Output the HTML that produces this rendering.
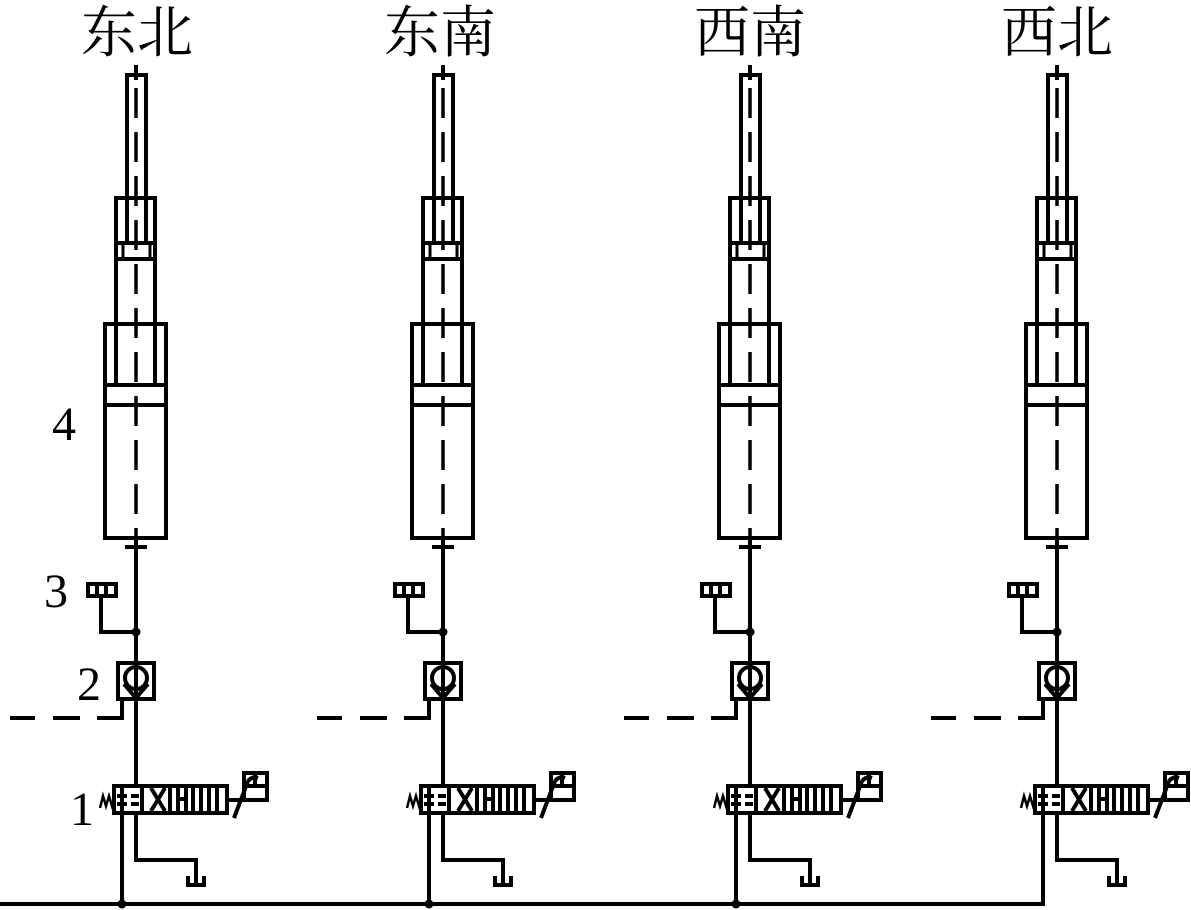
<!DOCTYPE html>
<html><head><meta charset="utf-8"><style>
html,body{margin:0;padding:0;background:#fff;}
svg{display:block}
</style></head><body>
<svg width="1191" height="910" viewBox="0 0 1191 910" xmlns="http://www.w3.org/2000/svg">
<defs>
<g id="col" fill="none" stroke="#000" stroke-width="4">
  <line x1="136" y1="65" x2="136" y2="80"/>
  <line x1="136" y1="88" x2="136" y2="540" stroke-dasharray="30,14" stroke-width="3.5"/>
  <rect x="127" y="75" width="19" height="168"/>
  <rect x="116" y="198" width="39" height="187"/>
  <rect x="116" y="243" width="39" height="16"/>
  <rect x="123" y="243" width="27" height="16" stroke-width="3"/>
  <rect x="105" y="324" width="61" height="214"/>
  <line x1="105" y1="385" x2="166" y2="385"/>
  <line x1="105" y1="405" x2="166" y2="405"/>
  <line x1="136" y1="538" x2="136" y2="785"/>
  <line x1="125" y1="547" x2="147" y2="547"/>
  <rect x="88" y="584" width="28" height="12"/>
  <line x1="97" y1="584" x2="97" y2="596"/>
  <line x1="106" y1="584" x2="106" y2="596"/>
  <polyline points="101,596 101,632 136,632"/>
  <rect x="118" y="663" width="36" height="36"/>
  <circle cx="136" cy="678" r="11"/>
  <polyline points="124,684 136,698 148,684"/>
  <polyline points="122,700 122,718 97,718"/>
  <line x1="80" y1="718" x2="53" y2="718"/>
  <line x1="35" y1="718" x2="10" y2="718"/>
  <rect x="114" y="786" width="28" height="27"/>
  <rect x="142" y="786" width="85" height="27"/>
  <line x1="117" y1="796" x2="127" y2="796"/><line x1="131" y1="796" x2="139" y2="796"/>
  <line x1="117" y1="804" x2="127" y2="804"/><line x1="131" y1="804" x2="139" y2="804"/>
  <line x1="151" y1="788" x2="165" y2="811"/><line x1="165" y1="788" x2="151" y2="811"/>
  <line x1="170" y1="786" x2="170" y2="813"/>
  <line x1="178" y1="786" x2="178" y2="813"/>
  <line x1="186" y1="786" x2="186" y2="813"/>
  <line x1="178" y1="799" x2="186" y2="799"/>
  <line x1="193" y1="786" x2="193" y2="813"/>
  <line x1="201" y1="786" x2="201" y2="813"/>
  <line x1="209" y1="786" x2="209" y2="813"/>
  <line x1="217" y1="786" x2="217" y2="813"/>
  <line x1="227" y1="800" x2="240" y2="800"/>
  <line x1="234" y1="818" x2="248" y2="781"/>
  <path d="M248,781 Q252,776 258,778"/>
  <rect x="244" y="773" width="23" height="27"/>
  <line x1="244" y1="786" x2="267" y2="786"/>
  <line x1="255" y1="773" x2="255" y2="786"/>
  <polyline points="100,808 103,796 106,806 109,796 112,806 114,800" stroke-width="2.5"/>
  <line x1="122" y1="786" x2="122" y2="904"/>
  <polyline points="136,813 136,860 196,860 196,884"/>
  <polyline points="188,876 188,885 204,885 204,876"/>
</g>
</defs>
<use href="#col"/>
<use href="#col" x="307"/>
<use href="#col" x="614"/>
<use href="#col" x="921"/>
<line x1="0" y1="904" x2="1045" y2="904" stroke="#000" stroke-width="4"/>
<line x1="1043" y1="904" x2="1043" y2="800" stroke="#000" stroke-width="4"/>
<circle cx="122" cy="904" r="4.5"/><circle cx="429" cy="904" r="4.5"/><circle cx="736" cy="904" r="4.5"/>
<circle cx="136" cy="632" r="4.5"/><circle cx="443" cy="632" r="4.5"/><circle cx="750" cy="632" r="4.5"/><circle cx="1057" cy="632" r="4.5"/>
<g font-family="'Liberation Serif','Noto Serif CJK SC',serif" font-size="56" text-anchor="middle">
<text x="137" y="52">东北</text>
<text x="440" y="52">东南</text>
<text x="750" y="52">西南</text>
<text x="1057" y="52">西北</text>
</g>
<g font-family="'Liberation Serif',serif" font-size="48">
<text x="52" y="440">4</text>
<text x="44" y="607">3</text>
<text x="77" y="700">2</text>
<text x="70" y="825">1</text>
</g>
</svg>
</body></html>
